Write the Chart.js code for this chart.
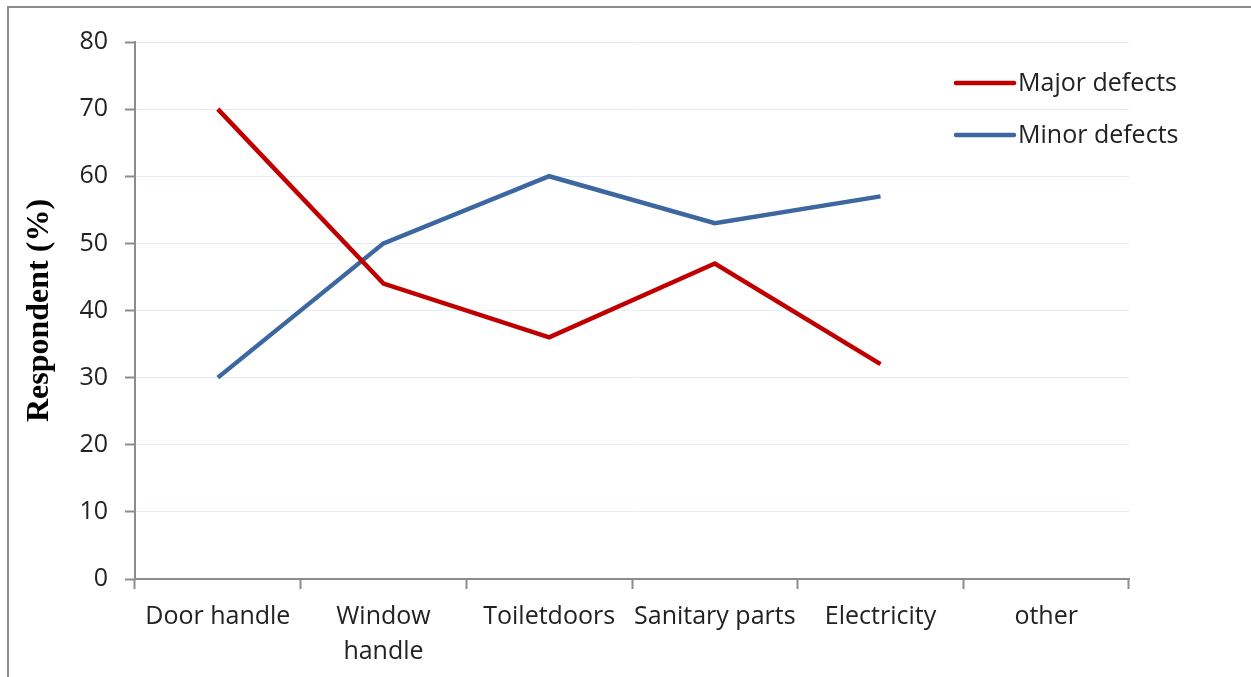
<!DOCTYPE html>
<html>
<head>
<meta charset="utf-8">
<script src="https://cdn.jsdelivr.net/npm/chart.js@4"></script>
<style>
  html, body { margin: 0; padding: 0; background: #fff; }
  #wrap { width: 1251px; height: 677px; }
</style>
</head>
<body>
<div id="wrap"><canvas id="chart" width="1251" height="677"></canvas></div>
<script>
const categories = ['Door handle', ['Window', 'handle'], 'Toiletdoors', 'Sanitary parts', 'Electricity', 'other'];
const majorDefects = [70, 44, 36, 47, 32, null];
const minorDefects = [30, 50, 60, 53, 57, null];
const yTicks = [0, 10, 20, 30, 40, 50, 60, 70, 80];

const fontFamily = '"Open Sans", Lato, sans-serif';

// grey frame round the picture
const framePlugin = {
  id: 'frame',
  beforeDraw(chart) {
    const ctx = chart.ctx;
    ctx.save();
    ctx.strokeStyle = '#8c8c8c';
    ctx.lineWidth = 2;
    ctx.strokeRect(8, 7, 1250, 700);
    ctx.restore();
  }
};

// legend drawn inside the plot, top right
const legendPlugin = {
  id: 'floatLegend',
  afterDraw(chart) {
    const ctx = chart.ctx;
    ctx.save();
    chart.data.datasets.forEach((ds, i) => {
      const y = 83 + i * 52;
      ctx.strokeStyle = ds.borderColor;
      ctx.lineWidth = 4.5;
      ctx.lineCap = 'round';
      ctx.beginPath();
      ctx.moveTo(956, y);
      ctx.lineTo(1014, y);
      ctx.stroke();
      ctx.fillStyle = '#222';
      ctx.font = '25px ' + fontFamily;
      ctx.textBaseline = 'middle';
      ctx.fillText(ds.label, 1018, y + 1);
    });
    ctx.restore();
  }
};

new Chart(document.getElementById('chart'), {
  type: 'line',
  data: {
    labels: categories,
    datasets: [
      { label: 'Major defects', data: majorDefects, borderColor: '#C00000', borderWidth: 4.5, pointRadius: 0, tension: 0 },
      { label: 'Minor defects', data: minorDefects, borderColor: '#3C67A0', borderWidth: 4.5, pointRadius: 0, tension: 0 }
    ]
  },
  options: {
    responsive: false,
    animation: false,
    layout: { padding: { left: 0, top: 42, right: 122, bottom: 0 } },
    plugins: { legend: { display: false }, tooltip: { enabled: false } },
    scales: {
      x: {
        offset: true,
        grid: { offset: true, drawOnChartArea: false, drawTicks: true, tickLength: 10, tickColor: '#8c8c8c', tickWidth: 2 },
        border: { color: '#8c8c8c', width: 2 },
        ticks: { color: '#222', font: { family: fontFamily, size: 25, lineHeight: 1.4 }, maxRotation: 0, autoSkip: false, padding: 10 },
        afterFit(scale) { scale.height = 98; }
      },
      y: {
        min: 0,
        max: 80,
        afterBuildTicks(scale) { scale.ticks = yTicks.map(v => ({ value: v })); },
        grid: { color: '#E3EDF8', lineWidth: 1, drawTicks: true, tickLength: 10, tickColor: '#8c8c8c', tickWidth: 2 },
        border: { color: '#8c8c8c', width: 2 },
        ticks: { color: '#222', font: { family: fontFamily, size: 25 }, padding: 17 },
        title: {
          display: true,
          text: 'Respondent (%)',
          color: '#000',
          font: { family: '"Liberation Serif", "DejaVu Serif", serif', size: 32, weight: 'bold' },
          padding: { top: 21, bottom: 0 }
        },
        afterFit(scale) { scale.width = 135; }
      }
    }
  },
  plugins: [framePlugin, legendPlugin]
});
</script>
</body>
</html>
